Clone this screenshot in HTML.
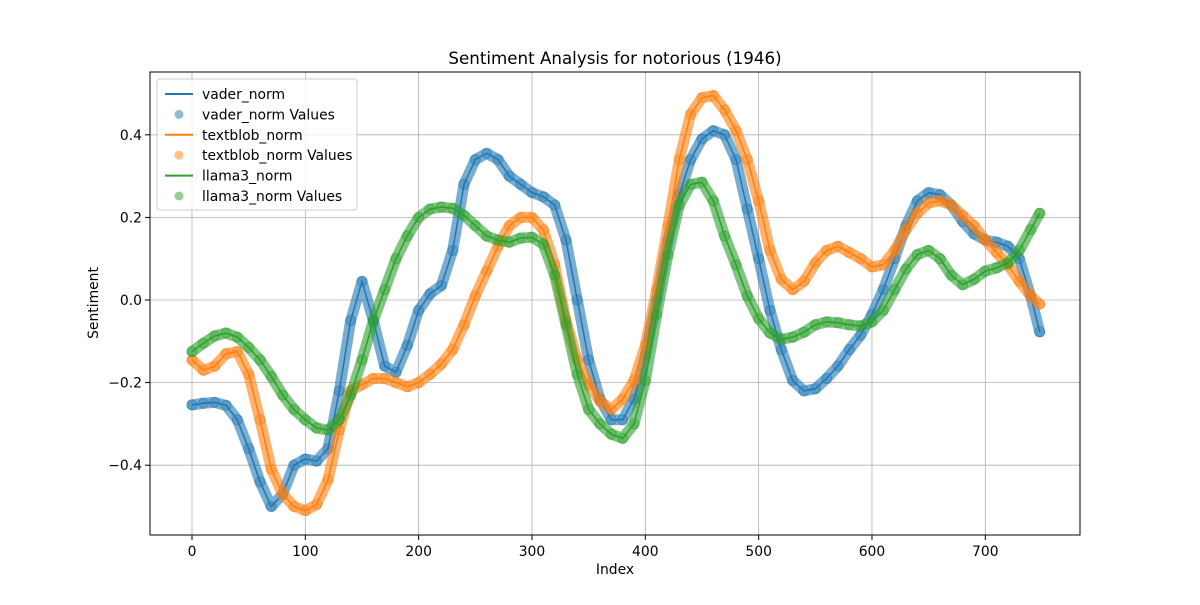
<!DOCTYPE html>
<html><head><meta charset="utf-8"><style>
body{margin:0;background:#fff}
svg text{font-family:"DejaVu Sans","Liberation Sans",sans-serif;fill:#000}
</style></head><body>
<svg id="chart" width="1200" height="600" xmlns="http://www.w3.org/2000/svg">
<rect width="1200" height="600" fill="#fff"/>
<g id="grid"></g>
<g id="series"></g>
<rect x="150" y="72" width="930" height="463" fill="none" stroke="#000" stroke-width="1"/>
<g id="ticks"></g>
<text x="615" y="64" font-size="16.7" text-anchor="middle">Sentiment Analysis for notorious (1946)</text>
<text x="615" y="574" font-size="13.9" text-anchor="middle">Index</text>
<text x="98" y="303" font-size="13.9" text-anchor="middle" transform="rotate(-90 98 303)">Sentiment</text>
<g id="legend"></g>
</svg>
<script>
const idx=[0,10,20,30,40,50,60,70,80,90,100,110,120,130,140,150,160,170,180,190,200,210,220,230,240,250,260,270,280,290,300,310,320,330,340,350,360,370,380,390,400,410,420,430,440,450,460,470,480,490,500,510,520,530,540,550,560,570,580,590,600,610,620,630,640,650,660,670,680,690,700,710,720,730,740,748];
const vader=[-0.254,-0.25,-0.248,-0.255,-0.29,-0.36,-0.44,-0.5,-0.47,-0.4,-0.385,-0.39,-0.36,-0.22,-0.05,0.045,-0.05,-0.16,-0.175,-0.11,-0.025,0.015,0.035,0.12,0.28,0.34,0.355,0.34,0.3,0.28,0.26,0.25,0.23,0.145,0,-0.145,-0.24,-0.29,-0.29,-0.24,-0.135,0,0.145,0.255,0.34,0.39,0.41,0.4,0.34,0.22,0.1,-0.025,-0.12,-0.195,-0.22,-0.215,-0.19,-0.16,-0.12,-0.085,-0.035,0.025,0.1,0.18,0.24,0.26,0.255,0.23,0.19,0.16,0.145,0.14,0.13,0.1,0.01,-0.077];
const textblob=[-0.145,-0.17,-0.16,-0.13,-0.125,-0.18,-0.29,-0.41,-0.47,-0.5,-0.51,-0.495,-0.435,-0.315,-0.22,-0.205,-0.19,-0.19,-0.2,-0.21,-0.2,-0.18,-0.155,-0.12,-0.06,0.01,0.07,0.13,0.18,0.2,0.2,0.17,0.085,-0.05,-0.145,-0.205,-0.245,-0.265,-0.24,-0.195,-0.11,0.025,0.18,0.34,0.45,0.49,0.495,0.46,0.41,0.34,0.24,0.12,0.05,0.025,0.045,0.09,0.12,0.13,0.115,0.1,0.08,0.085,0.12,0.17,0.21,0.235,0.24,0.23,0.205,0.18,0.145,0.115,0.085,0.045,0.01,-0.01];
const llama=[-0.125,-0.105,-0.087,-0.08,-0.09,-0.115,-0.145,-0.185,-0.23,-0.265,-0.29,-0.31,-0.315,-0.29,-0.23,-0.145,-0.05,0.025,0.1,0.155,0.2,0.22,0.225,0.222,0.205,0.18,0.155,0.145,0.14,0.15,0.152,0.135,0.06,-0.06,-0.18,-0.265,-0.3,-0.325,-0.335,-0.3,-0.195,-0.035,0.11,0.23,0.28,0.285,0.24,0.155,0.085,0.01,-0.045,-0.08,-0.095,-0.09,-0.078,-0.06,-0.053,-0.055,-0.06,-0.063,-0.053,-0.025,0.025,0.075,0.11,0.12,0.1,0.06,0.037,0.05,0.07,0.078,0.09,0.12,0.17,0.21];
const xTicks=[0,100,200,300,400,500,600,700];
const yTicks=[-0.4,-0.2,0.0,0.2,0.4];
const yTickLabels=["−0.4","−0.2","0.0","0.2","0.4"];
const legendLabels=["vader_norm","vader_norm Values","textblob_norm","textblob_norm Values","llama3_norm","llama3_norm Values"];
const NS="http://www.w3.org/2000/svg";
const X=v=>192+v*1.1333, Y=v=>300-v*413;
function mk(t,a,p){const e=document.createElementNS(NS,t);for(const k in a)e.setAttribute(k,a[k]);p.appendChild(e);return e;}
const grid=document.getElementById('grid'),ticks=document.getElementById('ticks');
xTicks.forEach(t=>{const x=X(t);
 const g=mk('line',{x1:x,x2:x,y1:72,y2:535,stroke:'#b0b0b0','stroke-width':0.8},grid);
 
 
 const k=mk('line',{x1:x,x2:x,y1:535,y2:540,stroke:'#000'},ticks);
 
 
 const l=mk('text',{x:x,y:556,'font-size':13.9,'text-anchor':'middle'},ticks);l.textContent=t;
 
 });
yTicks.forEach((t,i)=>{const y=Y(t);
 const g=mk('line',{x1:150,x2:1080,y1:y,y2:y,stroke:'#b0b0b0','stroke-width':0.8},grid);
 
 
 const k=mk('line',{x1:145,x2:150,y1:y,y2:y,stroke:'#000'},ticks);
 
 
 const l=mk('text',{x:142,y:y+5,'font-size':13.9,'text-anchor':'end'},ticks);l.textContent=yTickLabels[i];
 
 });
const ser=document.getElementById('series');
const all=[[vader,'#1f77b4','vader'],[textblob,'#ff7f0e','textblob'],[llama,'#2ca02c','llama3']];
all.forEach(([d,c,n])=>{
 const pts=idx.map((v,i)=>X(v)+','+Y(d[i])).join(' ');
 const band=mk('polyline',{points:pts,fill:'none',stroke:c,'stroke-width':11,'stroke-opacity':0.6,'stroke-linejoin':'round','stroke-linecap':'round'},ser);
 
 
 idx.forEach((v,i)=>{const p=mk('circle',{cx:X(v),cy:Y(d[i]),r:5,fill:c,'fill-opacity':0.35,stroke:c,'stroke-opacity':0.5},ser);
  
  });
 const ln=mk('polyline',{points:pts,fill:'none',stroke:c,'stroke-width':1.5},ser);
 
 
});
const lg=document.getElementById('legend');
const lb=mk('rect',{x:157,y:79,width:200,height:131,rx:3,fill:'#fff','fill-opacity':0.8,stroke:'#ccc'},lg);


const cols=['#1f77b4','#1f77b4','#ff7f0e','#ff7f0e','#2ca02c','#2ca02c'];
legendLabels.forEach((s,i)=>{const y=94+i*20.4;
 if(i%2==0){const m=mk('line',{x1:165,x2:193,y1:y,y2:y,stroke:cols[i],'stroke-width':2},lg);
  
  }
 else{const m=mk('circle',{cx:179,cy:y,r:4.5,fill:cols[i],'fill-opacity':0.5},lg);
  
  }
 const t=mk('text',{x:202,y:y+5,'font-size':13.9},lg);t.textContent=s;
 
 });
</script>
</body></html>
